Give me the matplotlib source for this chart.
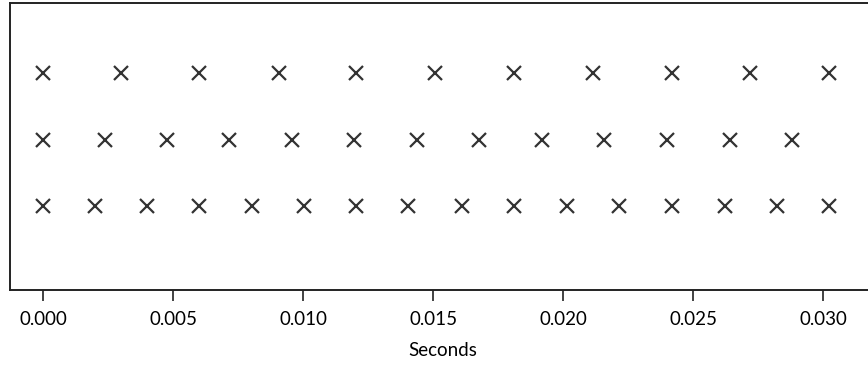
import matplotlib
matplotlib.use("Agg")
import matplotlib.pyplot as plt

# onset times (seconds) for three pulse trains
t_top = [0.0, 0.00300, 0.00599, 0.00907, 0.01203, 0.01507, 0.01811,
         0.02115, 0.02418, 0.02718, 0.03022]
t_mid = [0.0, 0.00238, 0.00477, 0.00715, 0.00957, 0.01195, 0.01438,
         0.01677, 0.01918, 0.02158, 0.02399, 0.02642, 0.02880]
t_bot = [0.0, 0.00200, 0.00400, 0.00599, 0.00803, 0.01003, 0.01203,
         0.01403, 0.01611, 0.01811, 0.02015, 0.02215, 0.02418, 0.02622,
         0.02822, 0.03022]
rows = [3, 2, 1]
xticks = [0.000, 0.005, 0.010, 0.015, 0.020, 0.025, 0.030]

plt.rcParams["font.family"] = ["Lato", "DejaVu Sans"]

fig = plt.figure(figsize=(8.68, 3.73), dpi=100)
ax = fig.add_axes([10 / 868, 1 - 290 / 373, 865 / 868, 287 / 373])

for times, y in zip([t_top, t_mid, t_bot], rows):
    ax.plot(times, [y] * len(times), linestyle="none",
            marker="x", markersize=10.5, markeredgewidth=1.6, color="#333333")

ax.set_xlim(-0.001277, 0.03199)
ax.set_ylim(-0.26, 4.06)
ax.set_yticks([])
ax.set_xticks(xticks)
ax.set_xticklabels([f"{v:.3f}" for v in xticks], fontsize=13.5)
ax.tick_params(axis="x", length=8, width=1.2, color="#222222", pad=7)
ax.set_xlabel("Seconds", fontsize=13.5, labelpad=10)
for s in ax.spines.values():
    s.set_linewidth(1.4)
    s.set_color("#222222")

fig.savefig("out.png", dpi=100)
